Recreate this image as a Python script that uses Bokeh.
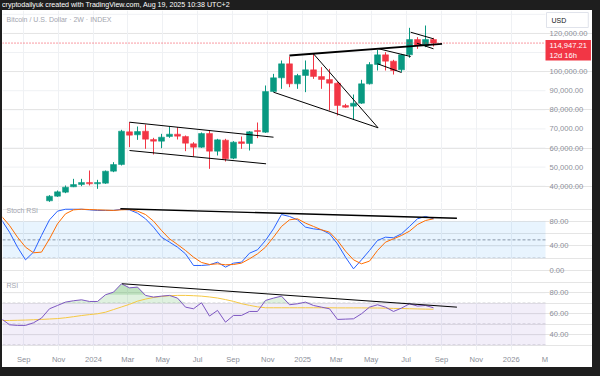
import numpy as np
import pandas as pd
from bokeh.plotting import figure
from bokeh.layouts import column
from bokeh.core.properties import value
from bokeh.models import (Range1d, FixedTicker, Grid, BoxAnnotation, Label, Div,
                          ColumnDataSource)
from bokeh.embed import file_html
from bokeh.resources import INLINE

# ---------------- data ----------------
bar_dates = pd.date_range("2023-07-24", periods=55, freq="14D")   # 2W bars
candle_dates = bar_dates[6:]                                      # bars visible in price range

opens = [32340, 34780, 36880, 39670, 40890, 41940, 41240, 41590, 47870, 51360,
         68470, 66900, 68820, 64460, 63590, 66030, 67250, 66030, 62190, 60440,
         67590, 58350, 64110, 54680, 63230, 62360, 69170, 68290, 89590, 96740,
         104070, 93600, 97960, 100930, 97440, 95870, 93950, 82250, 81910, 83480,
         93600, 103720, 108780, 105470, 100930, 108780, 116810, 113670, 116810]
closes = [34780, 37050, 39500, 40890, 41940, 41240, 41940, 47870, 51360, 68820,
          66720, 68640, 64630, 63590, 65680, 67250, 66200, 62530, 60440, 67590,
          58350, 64280, 54330, 63060, 62360, 68470, 68640, 89590, 96740, 104070,
          93600, 97960, 100930, 97440, 95870, 93950, 82250, 81380, 83480, 93600,
          103720, 108780, 105470, 100580, 108780, 116810, 113670, 116810, 114947.21]
highs = [35300, 37750, 40370, 43860, 43860, 48220, 43340, 48220, 52590, 69520,
         73530, 71260, 72300, 65330, 67420, 71260, 70910, 66550, 63060, 68120,
         69170, 64800, 64800, 63580, 66030, 68820, 73350, 92730, 98830, 105820,
         107910, 98830, 105820, 109300, 102330, 101450, 94470, 83130, 88010, 95700,
         104940, 111400, 110180, 106165, 109300, 122920, 118030, 124140, 117680]
lows = [31820, 34430, 36350, 39500, 40020, 40370, 38620, 41240, 47350, 50840,
        60440, 64280, 59570, 56600, 59920, 65330, 64460, 58350, 55550, 60090,
        49090, 56080, 52930, 54160, 59570, 58690, 65160, 67940, 89240, 90980,
        91850, 90980, 89240, 96220, 90980, 79640, 77020, 81030, 74920, 83130,
        93250, 100580, 100580, 98480, 99710, 107210, 111925, 112800, 113150]

stoch_k = [82.7, 62.6, 38.1, 17.4, 30.0, 57.2,
           82.7, 96.9, 100, 100,
           100, 99, 98, 98, 98, 100, 99,
           93.6, 84.4, 70.8, 54.4, 46.3, 38.1, 27.2, 8.2, 8.2, 9.3, 13.6, 5.5, 12.0,
           13.6, 28.3, 33.8, 49.0, 68.0, 91.4, 88.2, 82.7,
           70.8, 68.0, 66.4, 59.9, 43.5, 21.8, 2.7, 17.4, 32.7, 49.0, 54.4, 53.4,
           59.9, 71.9, 84.4, 88.2, 84.4]
stoch_d = [88.7, 73.5, 54.4, 38.1, 28.9, 30.0,
           51.7, 76.2, 92.5, 99,
           100, 99.5, 99, 98.5, 98, 99, 99.5,
           96.9, 91.4, 80.6, 65.3, 51.7, 42.5, 32.7, 21.8, 13.1, 9.8, 10.9, 9.3, 9.8,
           12.0, 19.1, 27.2, 38.1, 54.4, 71.9, 82.7, 84.4,
           77.3, 71.9, 66.4, 62.6, 49.0, 31.6, 17.4, 10.9, 15.3, 32.7, 46.3, 51.7,
           57.2, 64.2, 75.1, 81.6, 84.4]
rsi = [55.2, 49.5, 48.9, 48.9, 51.4, 55.9,
       64.75, 67.9, 71.1, 72.4, 73.3, 71.7, 71.7, 78.1, 80.6, 88.6, 84.7,
       85.4, 77.5, 75.9, 76.8, 77.5, 74.9, 66.3, 64.75, 70.5, 57.8, 63.2, 52.0, 58.4,
       58.4, 62.2, 62.2, 72.7, 74.9, 76.8, 68.6, 69.5,
       71.1, 67.9, 66.3, 64.75, 54.6, 54.9, 55.2, 60.0, 66.3, 68.6, 66.3, 62.2,
       65.4, 69.5, 67.3, 67.9, 65.7]
rsi_ma = [53.6, 53.6, 53.8, 54.0, 54.3, 54.6,
          55.0, 55.4, 56.2, 57.2, 58.3, 59.2, 60.0, 61.5, 64.0, 66.5, 69.0,
          72.0, 74.0, 75.5, 76.5, 77.2, 77.5, 77.5, 77.2, 76.8, 76.0, 75.0, 73.5, 71.8,
          69.6, 68.0, 66.6, 65.7, 65.7, 65.7, 65.7, 65.7,
          65.7, 65.7, 65.7, 65.7, 65.6, 65.6, 65.6, 65.6, 65.5, 65.5, 65.3, 65.1,
          65.0, 64.8, 64.6, 64.4, 64.3]

# trend lines drawn on the chart
price_tl_x0 = ["2024-03-04", "2024-03-04", "2024-12-09", "2025-01-20", "2024-11-11",
               "2025-05-12", "2025-05-12", "2025-07-09", "2025-07-20"]
price_tl_y0 = [73510, 58690, 108430, 109320, 89220, 112100, 104090, 120630, 114870]
price_tl_x1 = ["2024-11-11", "2024-10-29", "2025-09-02", "2025-05-13", "2025-05-13",
               "2025-07-09", "2025-06-23", "2025-08-18", "2025-08-18"]
price_tl_y1 = [65656, 51730, 114560, 70580, 70580, 107910, 99540, 117180, 111940]
price_tl_w = [1, 1, 1.8, 1, 1, 1, 1, 1, 1]

stoch_tl_x = ["2024-02-17", "2025-09-28"]
stoch_tl_y = [100.7, 85.4]
rsi_tl_x = ["2024-02-20", "2025-09-28"]
rsi_tl_y = [88.6, 66.3]

price_ticks = [40000, 50000, 60000, 70000, 80000, 90000, 100000, 120000]
price_grid = [40000, 50000, 60000, 70000, 80000, 90000, 100000, 110000, 120000, 130000]
stoch_ticks = [0, 40, 80]
stoch_levels = [20, 50, 80]
rsi_ticks = [40, 60, 80]
rsi_levels = [30, 50, 70]

tick_dates = ["2023-09-01", "2023-11-01", "2024-01-01", "2024-03-01", "2024-05-01",
              "2024-07-01", "2024-09-01", "2024-11-01", "2025-01-01", "2025-03-01",
              "2025-05-01", "2025-07-01", "2025-09-01", "2025-11-01", "2026-01-01",
              "2026-03-01"]
tick_labels = ["Sep", "Nov", "2024", "Mar", "May", "Jul", "Sep", "Nov", "2025",
               "Mar", "May", "Jul", "Sep", "Nov", "2026", "M"]

title_text = "Bitcoin / U.S. Dollar \u00b7 2W \u00b7 INDEX"
header_text = "cryptodailyuk created with TradingView.com, Aug 19, 2025 10:38 UTC+2"
last_price = closes[-1]
countdown = "12d 16h"

# ---------------- style ----------------
DARK = "#1e1e1e"
GRID = "#eff1f4"
AXT = "#8c8f99"
UP = "#089981"
DOWN = "#f23645"
FONT = "Liberation Sans"
FS = "7.6px"

x_start = pd.Timestamp("2023-07-25 18:00")
x_end = pd.Timestamp("2026-03-02")           # right edge of the chart area
x_full = pd.Timestamp("2026-05-23 06:00")    # right edge incl. price scale
xr = Range1d(x_start, x_full)
tick_ms = [float(pd.Timestamp(t).value // 10**6) for t in tick_dates]
grid_ms = tick_ms[:-1]

PW = 590


def make_fig(h, y0, y1, with_x=False):
    p = figure(width=PW, height=h, x_range=xr, y_range=Range1d(y0, y1),
               x_axis_type="datetime", x_axis_location="below" if with_x else None,
               y_axis_location=None, output_backend="svg", toolbar_location=None,
               tools="", min_border_left=0, min_border_top=0, min_border_right=0,
               min_border_bottom=17 if with_x else 0,
               background_fill_color="white", border_fill_color="white",
               outline_line_color=None)
    p.xgrid.visible = False
    p.add_layout(Grid(dimension=0, ticker=FixedTicker(ticks=grid_ms),
                      grid_line_color=GRID, grid_line_width=1))
    if with_x:
        xa = p.xaxis[0]
        xa.ticker = FixedTicker(ticks=tick_ms)
        xa.major_label_overrides = {t: l for t, l in zip(tick_ms, tick_labels)}
        xa.axis_line_color = None
        xa.major_tick_line_color = None
        xa.minor_tick_line_color = None
        xa.major_tick_out = 0
        xa.major_tick_in = 0
        xa.minor_tick_out = 0
        xa.major_label_standoff = 4
        xa.major_label_text_font = FONT
        xa.major_label_text_font_size = FS
        xa.major_label_text_color = AXT
    return p


def hlines(p, ys, color, dash="solid", alpha=1.0):
    n = len(ys)
    p.segment(x0=[x_start] * n, x1=[x_end] * n, y0=ys, y1=ys, line_color=color,
              line_dash=dash, line_width=1, line_alpha=alpha, level="underlay")


def scale_labels(p, ticks, fmt):
    p.text(x=[x_end] * len(ticks), y=ticks, text=[fmt.format(t) for t in ticks],
           x_offset=4, text_baseline="middle", text_align="left",
           text_font=value(FONT), text_font_size=FS, text_color=AXT)


def pane_label(p, text, ytop, dy):
    p.add_layout(Label(x=x_start, y=ytop, x_offset=4, y_offset=dy, text=text,
                       text_baseline="top", text_font=FONT, text_font_size="7px",
                       text_color="#a3a6af"))


# ---------------- price pane ----------------
p1 = make_fig(192, 31465, 132000)
hlines(p1, price_grid, GRID)
scale_labels(p1, price_ticks, "{:,.2f}")

colors = [UP if c >= o else DOWN for o, c in zip(opens, closes)]
csrc = ColumnDataSource(dict(date=candle_dates, open=opens, close=closes, high=highs,
                             low=lows, top=np.maximum(opens, closes),
                             bottom=np.minimum(opens, closes), color=colors))
p1.segment(x0="date", y0="high", x1="date", y1="low", line_color="color",
           line_width=1, source=csrc)
p1.vbar(x="date", width=10.5 * 86400000, top="top", bottom="bottom",
        fill_color="color", line_color="color", line_width=0.5, source=csrc)

p1.segment(x0=[x_start], x1=[x_end], y0=[last_price], y1=[last_price],
           line_color=DOWN, line_dash="1 2", line_width=1)
p1.segment(x0=pd.to_datetime(price_tl_x0), y0=price_tl_y0,
           x1=pd.to_datetime(price_tl_x1), y1=price_tl_y1,
           line_color="black", line_width=price_tl_w)

pane_label(p1, title_text, 132000, -5)
p1.add_layout(Label(x=x_end, y=last_price, x_offset=0, y_offset=3,
                    text=f"{last_price:,.2f}\n{countdown}", text_baseline="top",
                    text_font=FONT, text_font_size=FS, text_color="white",
                    text_line_height=1.05, background_fill_color=DOWN,
                    padding=dict(left=4, right=4, top=1, bottom=1)))
p1.add_layout(Label(x=x_end, y=132000, x_offset=1, y_offset=-2, text="USD",
                    text_baseline="top", text_font=FONT, text_font_size="7px",
                    text_color="#131722", background_fill_color="white",
                    border_line_color="#e0e3eb",
                    padding=dict(left=5, right=22, top=4, bottom=4)))

# ---------------- Stoch RSI pane ----------------
p2 = make_fig(74, -9.8, 111)
hlines(p2, stoch_ticks, GRID)
scale_labels(p2, stoch_ticks, "{:.2f}")
p2.add_layout(BoxAnnotation(left=x_start, right=x_end, bottom=20, top=80,
                            fill_color="#2196f3", fill_alpha=0.1,
                            line_color=None, level="underlay"))
hlines(p2, stoch_levels, "#8a8d96", dash="3 2", alpha=0.9)
p2.line(bar_dates, stoch_k, line_color="#2962ff", line_width=1)
p2.line(bar_dates, stoch_d, line_color="#ff6d00", line_width=1)
p2.line(pd.to_datetime(stoch_tl_x), stoch_tl_y, line_color="black", line_width=1.4)
pane_label(p2, "Stoch RSI", 111, -4.5)

# ---------------- RSI pane ----------------
p3 = make_fig(91, 25, 95.5, with_x=True)
hlines(p3, rsi_ticks, GRID)
scale_labels(p3, rsi_ticks, "{:.2f}")
p3.add_layout(BoxAnnotation(left=x_start, right=x_end, bottom=30, top=70,
                            fill_color="#7e57c2", fill_alpha=0.1,
                            line_color=None, level="underlay"))
hlines(p3, rsi_levels, "#8a8d96", dash="3 2", alpha=0.9)
rsi_arr = np.array(rsi)
p3.varea(x=bar_dates, y1=70, y2=np.maximum(rsi_arr, 70), fill_color="#4caf50",
         fill_alpha=0.18)
p3.varea(x=bar_dates, y1=78, y2=np.maximum(rsi_arr, 78), fill_color="#4caf50",
         fill_alpha=0.22)
p3.line(bar_dates, rsi_ma, line_color="#f5c842", line_width=1)
p3.line(bar_dates, rsi, line_color="#7e57c2", line_width=1)
p3.line(pd.to_datetime(rsi_tl_x), rsi_tl_y, line_color="black", line_width=1)
pane_label(p3, "RSI", 95.5, -5)

header = Div(text=header_text, width=598, height=10, margin=(0, 0, 0, 2),
             styles={"color": "#ffffff", "font-size": "7.1px",
                     "font-family": "Liberation Sans, sans-serif",
                     "line-height": "10px", "white-space": "nowrap",
                     "overflow": "hidden"})
footer = Div(text="", width=600, height=9, margin=(0, 0, 0, 0))

panes = column(p1, p2, p3, spacing=0, margin=(0, 8, 0, 2),
               styles={"background-color": "white"})
layout = column(header, panes, footer, spacing=0, styles={"background-color": DARK})

with open("out.html", "w") as f:
    f.write(file_html(layout, INLINE, title="BTC 2W"))
